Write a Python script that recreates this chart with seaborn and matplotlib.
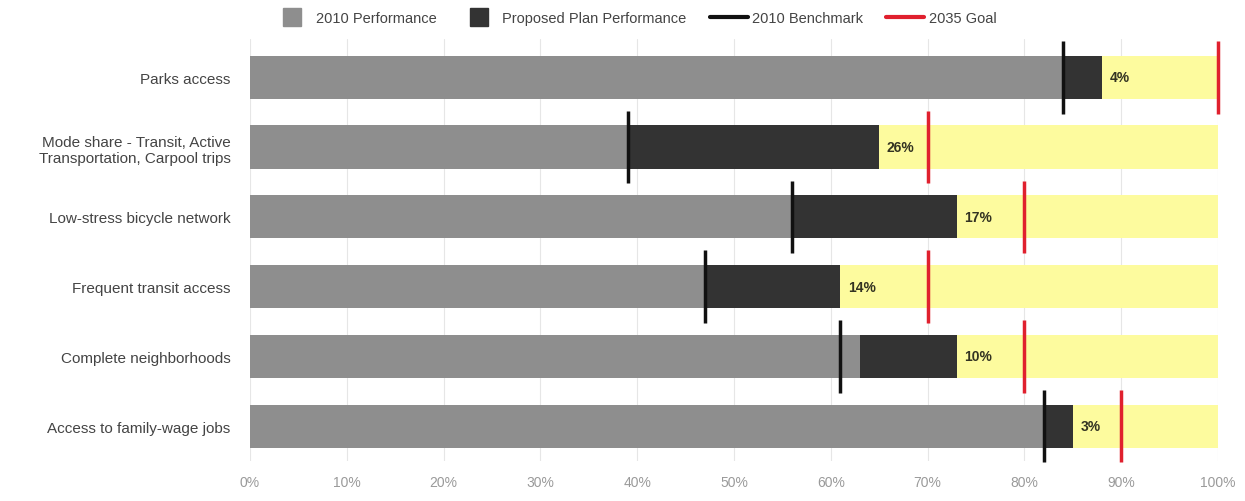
import matplotlib
matplotlib.use("Agg")
import pandas as pd
import seaborn as sns
import matplotlib.pyplot as plt
from matplotlib.lines import Line2D
from matplotlib.ticker import PercentFormatter

# datos
categorias = ['Parks access',
              'Mode share - Transit, Active\nTransportation, Carpool trips',
              'Low-stress bicycle network',
              'Frequent transit access',
              'Complete neighborhoods',
              'Access to family-wage jobs']
desempeno_2010 = [84, 39, 56, 47, 63, 82]
plan_propuesto = [88, 65, 73, 61, 73, 85]
referencia_2010 = [84, 39, 56, 47, 61, 82]
meta_2035 = [100, 70, 80, 70, 80, 90]
maximo = [100] * len(categorias)
etiquetas = ['4%', '26%', '17%', '14%', '10%', '3%']

df = pd.DataFrame({
    'categoria': categorias,
    'p2010': desempeno_2010,
    'plan': plan_propuesto,
    'bench': referencia_2010,
    'meta': meta_2035,
    'max': maximo,
    'etiqueta': etiquetas,
})

sns.set_style('white')
plt.rcParams['font.family'] = ['Liberation Sans Narrow', 'Liberation Sans', 'DejaVu Sans']

GRIS = '#8e8e8e'
OSCURO = '#333333'
AMARILLO = '#fdfb9e'
ROJO = '#e0202e'

fig = plt.figure(figsize=(12.45, 5.02), dpi=100)
ax = fig.add_axes([250 / 1245, 40 / 502, 968 / 1245, 422 / 502])

ax.grid(axis='x', color='#e6e6e6', linewidth=0.8)
ax.set_axisbelow(True)

ancho = 0.62
for col, color in [('max', AMARILLO), ('plan', OSCURO), ('p2010', GRIS)]:
    sns.barplot(data=df, y='categoria', x=col, color=color, width=ancho,
                orient='h', ax=ax, saturation=1, linewidth=0)

pos = range(len(df))
ax.vlines(df['bench'], [p - 0.52 for p in pos], [p + 0.52 for p in pos],
          color='#111111', linewidth=2.5, zorder=5, clip_on=False)
ax.vlines(df['meta'], [p - 0.52 for p in pos], [p + 0.52 for p in pos],
          color=ROJO, linewidth=2.5, zorder=5, clip_on=False)

for i, fila in df.iterrows():
    ax.text(fila['plan'] + 0.8, i, fila['etiqueta'], va='center', ha='left',
            fontsize=10, fontweight='bold', color='#333322', zorder=6)

ax.set_xlim(0, 100)
ax.set_ylim(5.5, -0.55)
ax.set_xticks(range(0, 101, 10))
ax.xaxis.set_major_formatter(PercentFormatter(decimals=0))
ax.tick_params(axis='x', labelsize=10, colors='#9a9a9a', length=0, pad=10)
ax.tick_params(axis='y', labelsize=11, labelcolor='#444444', length=0, pad=14)
ax.set_xlabel('')
ax.set_ylabel('')
sns.despine(ax=ax, left=True, bottom=True)

manejadores = [
    Line2D([0], [0], marker='s', linestyle='none', markersize=13,
           color=GRIS, label='2010 Performance'),
    Line2D([0], [0], marker='s', linestyle='none', markersize=13,
           color=OSCURO, label='Proposed Plan Performance'),
    Line2D([0], [0], color='#111111', linewidth=3, label='2010 Benchmark'),
    Line2D([0], [0], color=ROJO, linewidth=3, label='2035 Goal'),
]
fig.legend(handles=manejadores, loc='center', bbox_to_anchor=(0.51, 0.962),
           ncol=4, frameon=False, fontsize=10.5, handlelength=2.6,
           handletextpad=0.3, columnspacing=1.6, labelcolor='#444444')

plt.savefig('out.png', dpi=100)
